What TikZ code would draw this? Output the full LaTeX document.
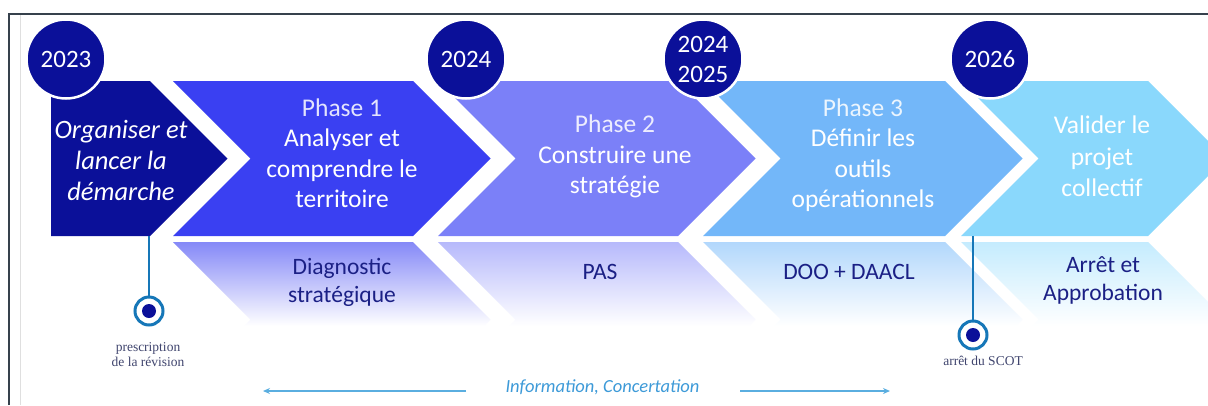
\documentclass[tikz,border=0pt]{standalone}
\usepackage{fontspec}
\setmainfont{Carlito}
\newfontfamily\smallserif{Liberation Serif}
\usetikzlibrary{arrows.meta}
\definecolor{navy}{HTML}{0B1099}
\definecolor{cA}{HTML}{3A40F2}
\definecolor{cB}{HTML}{7B80F8}
\definecolor{cC}{HTML}{73B7F9}
\definecolor{cD}{HTML}{8AD8FC}
\definecolor{labcol}{HTML}{1B2085}
\definecolor{stemcol}{HTML}{1677B8}
\definecolor{infocol}{HTML}{3D9AD8}
\definecolor{arrcol}{HTML}{5AAEE0}
\definecolor{framecol}{HTML}{36414C}
\definecolor{mlabcol}{HTML}{40456E}
\newcommand\mlines[1]{\begin{tabular}[t]{@{}c@{}}#1\end{tabular}}
\begin{document}
\begin{tikzpicture}[x=1pt,y=-1pt,
  yearc/.style={circle, fill=navy, draw=white, line width=2.5pt, minimum size=79pt, inner sep=0pt, text=white, align=center, font=\fontsize{25}{30}\selectfont},
  chevtext/.style={anchor=base, inner sep=0pt, text=white},
  bottext/.style={anchor=base, inner sep=0pt, text=labcol, font=\fontsize{23.5}{28}\selectfont},
  marker/.style={circle, minimum size=28pt, inner sep=0pt, draw=stemcol, line width=3pt, fill=white,
    path picture={\fill[navy] (path picture bounding box.center) circle (7pt);}},
  stemline/.style={stemcol, line width=2.5pt},
  mlabel/.style={anchor=base, inner sep=0pt, text=mlabcol, font=\smallserif\fontsize{13.5}{15}\selectfont},
  infoarrow/.style={arrcol, line width=1.4pt, -{Stealth[length=7pt,width=6pt]}}
]
\useasboundingbox (0,0) rectangle (1208,405);
\fill[white] (0,0) rectangle (1208,405);
% frame
\draw[framecol, line width=2pt] (9,405) -- (9,14) -- (1208,14);
\draw[gray!25, line width=0.8pt] (20,15) -- (20,405);

% reflections
\shade[top color=cA!62!white, bottom color=white] (173,242) -- (413,242) -- (490.5,319.5) -- (484,326) -- (244,326) -- (250.5,319.5) -- cycle;
\shade[top color=cB!55!white, bottom color=white] (438,242) -- (678,242) -- (755.5,319.5) -- (749,326) -- (509,326) -- (515.5,319.5) -- cycle;
\shade[top color=cC!55!white, bottom color=white] (703,242) -- (945,242) -- (1022.5,319.5) -- (1016,326) -- (774,326) -- (780.5,319.5) -- cycle;
\shade[top color=cD!50!white, bottom color=white] (961,242) -- (1148,242) -- (1225.5,319.5) -- (1219,326) -- (1032,326) -- (1038.5,319.5) -- cycle;

% chevrons
\fill[navy] (51,81) -- (150,81) -- (227.5,158.5) -- (150,236) -- (51,236) -- cycle;
\fill[cA] (173,81) -- (413,81) -- (490.5,158.5) -- (413,236) -- (173,236) -- (250.5,158.5) -- cycle;
\fill[cB] (438,81) -- (678,81) -- (755.5,158.5) -- (678,236) -- (438,236) -- (515.5,158.5) -- cycle;
\fill[cC] (703,81) -- (945,81) -- (1022.5,158.5) -- (945,236) -- (703,236) -- (780.5,158.5) -- cycle;
\fill[cD] (961,81) -- (1148,81) -- (1225.5,158.5) -- (1148,236) -- (961,236) -- (1038.5,158.5) -- cycle;

% chevron texts
\node[chevtext, font=\fontsize{26.5}{31}\selectfont\itshape] (t1) at (121,138) {\mlines{Organiser et\\lancer la\\démarche}};
\node[chevtext, font=\fontsize{25.5}{30.5}\selectfont] (t2) at (342,116) {\mlines{\textcolor{white!86!cA}{Phase 1}\\Analyser et\\comprendre le\\territoire}};
\node[chevtext, font=\fontsize{25.5}{30.5}\selectfont] (t3) at (615,132.5) {\mlines{\textcolor{white!86!cB}{Phase 2}\\Construire une\\stratégie}};
\node[chevtext, font=\fontsize{25.5}{30.5}\selectfont] (t4) at (863,116) {\mlines{\textcolor{white!86!cC}{Phase 3}\\Définir les\\outils\\opérationnels}};
\node[chevtext, font=\fontsize{25.5}{31.5}\selectfont] (t5) at (1102,133.5) {\mlines{Valider le\\projet\\collectif}};

% reflection labels
\node[bottext] (b2) at (342,274) {\mlines{Diagnostic\\stratégique}};
\node[bottext] (b3) at (600,279) {PAS};
\node[bottext] (b4) at (849,279) {DOO + DAACL};
\node[bottext] (b5) at (1103,272) {\mlines{Arrêt et\\Approbation}};

% year circles
\node[yearc] (y1) at (66,59) {2023};
\node[yearc] (y2) at (466,59) {2024};
\node[yearc] (y3) at (703,59) {2024\\2025};
\node[yearc] (y4) at (990,59) {2026};

% milestones
\coordinate (s1) at (149,236);
\node[marker] (m1) at (149,311) {};
\draw[stemline] (s1) -- (m1);
\node[mlabel] (l1) at (148,351) {\mlines{prescription\\de la révision}};

\coordinate (s2) at (973,236);
\node[marker] (m2) at (973,335) {};
\draw[stemline] (s2) -- (m2);
\node[mlabel] (l2) at (983,365.5) {arrêt du SCOT};

% information arrows
\node[anchor=base, inner sep=0pt, text=infocol, font=\fontsize{18.5}{22}\selectfont\itshape] (info) at (602.5,392) {Information, Concertation};
\coordinate (lA) at (466,391);
\coordinate (lB) at (263,391);
\coordinate (rA) at (740,391);
\coordinate (rB) at (890,391);
\draw[infoarrow] (lA) -- (lB);
\draw[infoarrow] (rA) -- (rB);
\end{tikzpicture}
\end{document}
